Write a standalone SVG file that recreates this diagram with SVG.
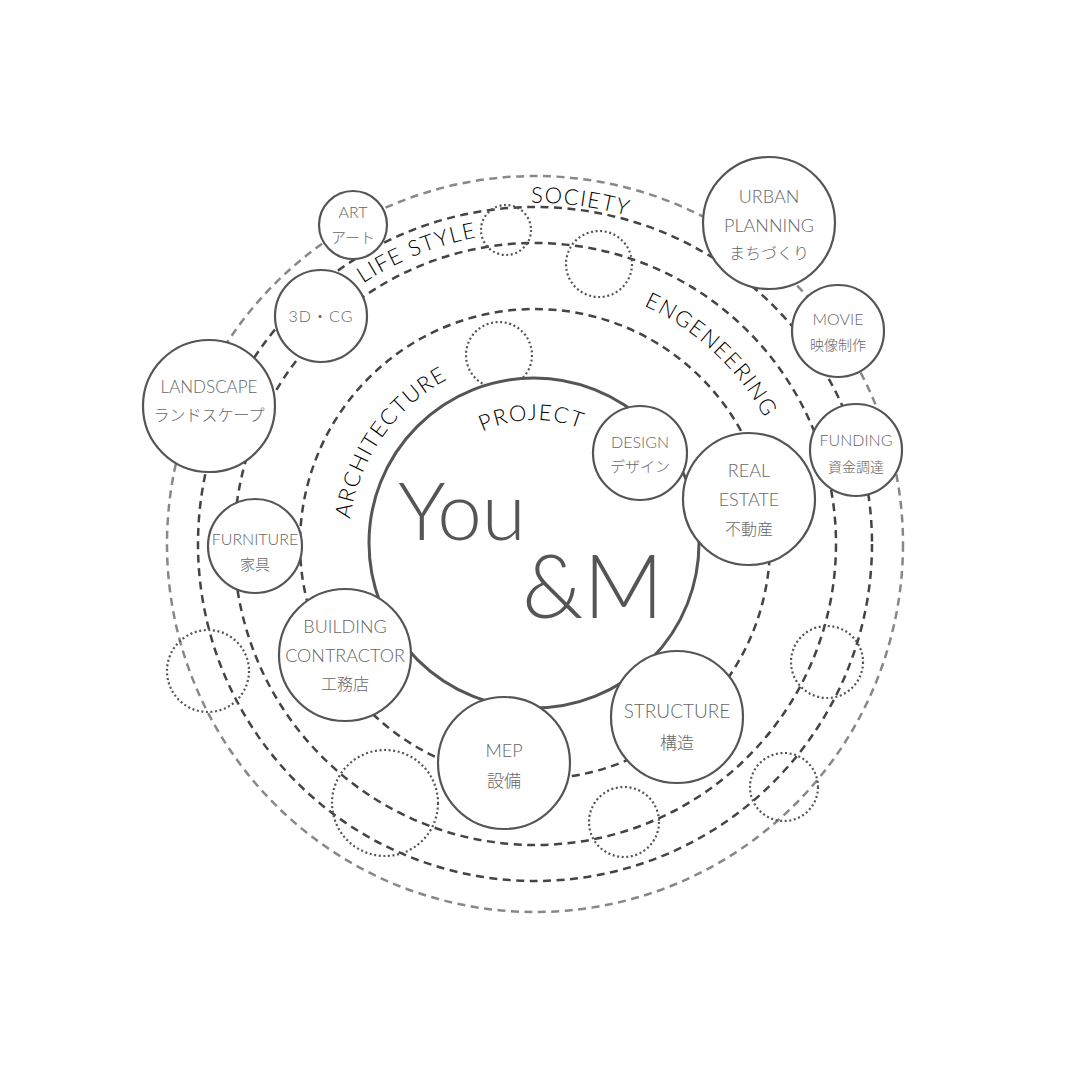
<svg xmlns="http://www.w3.org/2000/svg" width="1080" height="1080" viewBox="0 0 1080 1080">
<style>
.ring{fill:none;stroke:#444;stroke-width:2.5;stroke-dasharray:8 5.5}
.ring-outer{fill:none;stroke:#888;stroke-width:2.5;stroke-dasharray:8 5.5}
.dot{fill:none;stroke:#555;stroke-width:2.2;stroke-dasharray:2 2.6}
.node{fill:#fff;stroke:#555;stroke-width:2.2}
.proj{fill:#fff;stroke:#555;stroke-width:3}
.nt{font-family:Lato,"Noto Sans CJK JP",sans-serif;font-weight:300;fill:#666;text-anchor:middle}
.rl{font-family:Lato,"Noto Sans CJK JP",sans-serif;font-weight:300;fill:#000;font-size:22px;letter-spacing:1.5px}
.big{font-family:Lato,sans-serif;font-weight:300;fill:#555}
</style>
<defs>
<path id="pSociety" d="M191.1,498.1 A347,347 0 0 1 878.9,589.9"/>
<path id="pLife" d="M245.7,660.9 A312,312 0 0 1 824.3,427.1"/>
<path id="pEng" d="M343.4,365.3 A262,262 0 0 1 726.6,722.7"/>
<path id="pArch" d="M426.6,698.8 A189,189 0 0 1 643.4,389.2"/>
<path id="pProj" d="M411.0,547.2 A124,124 0 0 1 659.0,540.8"/>
</defs>
<rect width="1080" height="1080" fill="#fff"/>
<g id="rings">
<circle class="ring-outer" cx="535" cy="544" r="368"/>
<circle class="ring" cx="535" cy="544" r="337"/>
<circle class="ring" cx="535" cy="544" r="301"/>
<circle class="ring" cx="535" cy="544" r="235"/>
</g>
<g id="placeholders">
<circle class="dot" cx="506" cy="230" r="25"/>
<circle class="dot" cx="599" cy="264" r="33"/>
<circle class="dot" cx="499" cy="355" r="33"/>
<circle class="dot" cx="208" cy="671" r="41"/>
<circle class="dot" cx="385" cy="803" r="53"/>
<circle class="dot" cx="624" cy="822" r="35"/>
<circle class="dot" cx="784" cy="787" r="34"/>
<circle class="dot" cx="827" cy="662" r="36"/>
</g>
<g id="ring-labels">
<text class="rl"><textPath href="#pSociety" startOffset="50%" text-anchor="middle">SOCIETY</textPath></text>
<text class="rl" letter-spacing="0.8"><textPath href="#pLife" startOffset="50%" text-anchor="middle">LIFE STYLE</textPath></text>
<text class="rl"><textPath href="#pEng" startOffset="50%" text-anchor="middle">ENGENEERING</textPath></text>
<text class="rl"><textPath href="#pArch" startOffset="50%" text-anchor="middle">ARCHITECTURE</textPath></text>
</g>
<g id="project">
<circle class="proj" cx="534" cy="543" r="165"/>
<text class="rl" font-size="23"><textPath href="#pProj" startOffset="50%" text-anchor="middle">PROJECT</textPath></text>
<text class="big" x="398" y="540" font-size="80">You</text>
<text class="big" x="522" y="618" font-size="88">&amp;M</text>
</g>
<g id="node-art">
<circle class="node" cx="353" cy="225" r="34"/>
<text class="nt" x="353" y="218" font-size="16">ART</text>
<text class="nt" x="353" y="243" font-size="15">アート</text>
</g>
<g id="node-3dcg">
<circle class="node" cx="321" cy="316" r="46"/>
<text class="nt" x="321" y="322" font-size="16" letter-spacing="1">3D・CG</text>
</g>
<g id="node-landscape">
<circle class="node" cx="209" cy="406" r="66"/>
<text class="nt" x="209" y="393" font-size="17">LANDSCAPE</text>
<text class="nt" x="209" y="421" font-size="16">ランドスケープ</text>
</g>
<g id="node-furniture">
<circle class="node" cx="255" cy="546" r="47"/>
<text class="nt" x="255" y="545" font-size="16">FURNITURE</text>
<text class="nt" x="255" y="570" font-size="15">家具</text>
</g>
<g id="node-contractor">
<circle class="node" cx="345" cy="655" r="66"/>
<text class="nt" x="345" y="633" font-size="18">BUILDING</text>
<text class="nt" x="345" y="662" font-size="18">CONTRACTOR</text>
<text class="nt" x="345" y="690" font-size="16">工務店</text>
</g>
<g id="node-mep">
<circle class="node" cx="504" cy="763" r="66"/>
<text class="nt" x="504" y="757" font-size="18">MEP</text>
<text class="nt" x="504" y="787" font-size="17">設備</text>
</g>
<g id="node-structure">
<circle class="node" cx="677" cy="717" r="66"/>
<text class="nt" x="677" y="718" font-size="19">STRUCTURE</text>
<text class="nt" x="677" y="749" font-size="17">構造</text>
</g>
<g id="node-design">
<circle class="node" cx="640" cy="453" r="47"/>
<text class="nt" x="640" y="448" font-size="16">DESIGN</text>
<text class="nt" x="640" y="472" font-size="15">デザイン</text>
</g>
<g id="node-realestate">
<circle class="node" cx="749" cy="499" r="66"/>
<text class="nt" x="749" y="477" font-size="18">REAL</text>
<text class="nt" x="749" y="506" font-size="18">ESTATE</text>
<text class="nt" x="749" y="535" font-size="16">不動産</text>
</g>
<g id="node-funding">
<circle class="node" cx="856" cy="450" r="46"/>
<text class="nt" x="856" y="446" font-size="16">FUNDING</text>
<text class="nt" x="856" y="472" font-size="14">資金調達</text>
</g>
<g id="node-movie">
<circle class="node" cx="838" cy="331" r="46"/>
<text class="nt" x="838" y="325" font-size="16">MOVIE</text>
<text class="nt" x="838" y="350" font-size="14">映像制作</text>
</g>
<g id="node-urban">
<circle class="node" cx="769" cy="223" r="66"/>
<text class="nt" x="769" y="203" font-size="18">URBAN</text>
<text class="nt" x="769" y="232" font-size="18">PLANNING</text>
<text class="nt" x="769" y="259" font-size="16">まちづくり</text>
</g>
</svg>
